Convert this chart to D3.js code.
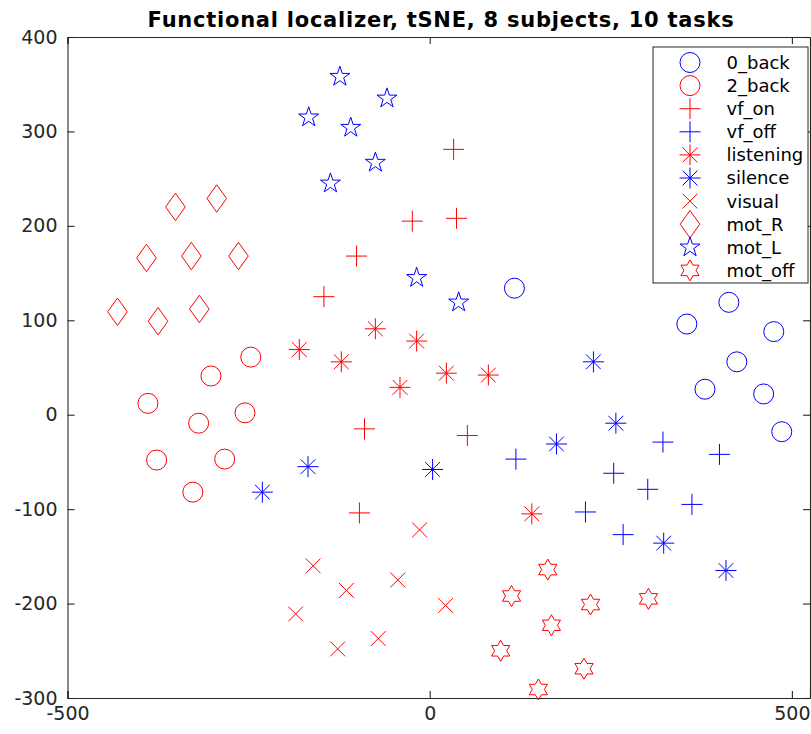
<!DOCTYPE html>
<html>
<head>
<meta charset="utf-8">
<script src="https://cdn.jsdelivr.net/npm/d3@7/dist/d3.min.js"></script>
<style>
  html, body { margin: 0; padding: 0; background: #fff; }
  svg { display: block; }
  text { font-family: "DejaVu Sans", sans-serif; }
</style>
</head>
<body>
<svg id="chart" width="811" height="734"></svg>
<script>
// ---------------- data ----------------
const categories = ["0_back", "2_back", "vf_on", "vf_off", "listening", "silence", "visual", "mot_R", "mot_L", "mot_off"];
const seriesColors = ["#0000ff", "#ff0000", "#ff0000", "#0000ff", "#ff0000", "#0000ff", "#ff0000", "#ff0000", "#0000ff", "#ff0000"];
const seriesShapes = ["circle", "circle", "plus", "plus", "asterisk", "asterisk", "cross", "diamond", "pentagram", "hexagram"];

const back0X = [117, 413, 355, 475, 424, 380, 461, 486];
const back0Y = [134, 119, 96, 88, 56, 27, 22, -18];
const back2X = [-247, -302, -389, -319, -255, -283, -377, -327];
const back2Y = [61, 41, 12, -9, 2, -47, -48, -82];
const vfOnX = [33, -24, 37, -101, -146, -90, 52, -97];
const vfOnY = [281, 205, 208, 168, 125, -15, -22, -104];
const vfOffX = [119, 322, 400, 254, 301, 362, 215, 267];
const vfOffY = [-47, -29, -42, -62, -79, -95, -103, -127];
const listeningX = [-180, -122, -75, -18, 23, 81, -41, 141];
const listeningY = [69, 56, 91, 78, 44, 42, 29, -105];
const silenceX = [-231, -168, 4, 175, 226, 257, 323, 409];
const silenceY = [-82, -55, -58, -31, 56, -9, -136, -165];
const visualX = [-14, -161, -115, -44, 22, -185, -71, -127];
const visualY = [-122, -160, -186, -175, -202, -211, -237, -248];
const motRX = [-351, -294, -391, -329, -264, -431, -375, -318];
const motRY = [220, 229, 166, 168, 168, 109, 99, 112];
const motLX = [-124, -59, -167, -109, -75, -137, -18, 40];
const motLY = [358, 335, 315, 304, 267, 245, 145, 119];
const motOffX = [163, 113, 222, 168, 98, 213, 150, 302];
const motOffY = [-164, -192, -201, -223, -250, -269, -291, -195];

const xTicks = [-500, 0, 500];
const yTicks = [-300, -200, -100, 0, 100, 200, 300, 400];
const xDomain = [-500, 525];
const yDomain = [-300, 400];
const titleText = "Functional localizer, tSNE, 8 subjects, 10 tasks";

// build table
const seriesX = [back0X, back2X, vfOnX, vfOffX, listeningX, silenceX, visualX, motRX, motLX, motOffX];
const seriesY = [back0Y, back2Y, vfOnY, vfOffY, listeningY, silenceY, visualY, motRY, motLY, motOffY];
const series = categories.map((name, i) => ({
  name, color: seriesColors[i], shape: seriesShapes[i],
  points: seriesX[i].map((x, j) => ({ x, y: seriesY[i][j] }))
}));

// ---------------- layout ----------------
const L = 67.5, R = 810, T = 37, B = 698;
const svg = d3.select("#chart");
const x = d3.scaleLinear().domain(xDomain).range([L, R]);
const y = d3.scaleLinear().domain(yDomain).range([B, T]);

function starPath(n, ro, ri) {
  const pts = [];
  for (let k = 0; k < 2 * n; k++) {
    const r = k % 2 === 0 ? ro : ri;
    const a = -Math.PI / 2 + k * Math.PI / n;
    pts.push([r * Math.cos(a), r * Math.sin(a)]);
  }
  return "M" + pts.map(p => p[0].toFixed(2) + "," + p[1].toFixed(2)).join("L") + "Z";
}
const d7 = 7.4;
const shapePaths = {
  circle: "M10,0A10,10 0 1,1 -10,0A10,10 0 1,1 10,0Z",
  plus: "M-10.5,0H10.5M0,-10.5V10.5",
  asterisk: `M-10.5,0H10.5M0,-10.5V10.5M${-d7},${-d7}L${d7},${d7}M${-d7},${d7}L${d7},${-d7}`,
  cross: `M${-d7},${-d7}L${d7},${d7}M${-d7},${d7}L${d7},${-d7}`,
  diamond: "M0,-13.7L9.8,0L0,13.7L-9.8,0Z",
  pentagram: starPath(5, 10.5, 10.5 * 0.382),
  hexagram: starPath(6, 10.5, 10.5 / Math.sqrt(3))
};

const axisColor = "#262626";

// axes
const gx = svg.append("g").attr("transform", `translate(0,${B})`)
  .call(d3.axisBottom(x).tickValues(xTicks).tickSize(-7).tickPadding(9).tickFormat(d3.format("d")));
const gxTop = svg.append("g").attr("transform", `translate(0,${T})`)
  .call(d3.axisTop(x).tickValues(xTicks).tickSize(-7).tickFormat(""));
const gy = svg.append("g").attr("transform", `translate(${L},0)`)
  .call(d3.axisLeft(y).tickValues(yTicks).tickSize(-7).tickPadding(10).tickFormat(d3.format("d")));
const gyRight = svg.append("g").attr("transform", `translate(${R},0)`)
  .call(d3.axisRight(y).tickValues(yTicks).tickSize(-7).tickFormat(""));

[gx, gxTop, gy, gyRight].forEach(g => {
  g.select(".domain").attr("stroke", axisColor).attr("stroke-width", 1.1);
  g.selectAll(".tick line").attr("stroke", axisColor).attr("stroke-width", 1.1);
  g.selectAll(".tick text").attr("fill", axisColor).attr("font-size", 19)
    .attr("font-family", "DejaVu Sans");
});
gx.selectAll(".tick text").text(d => d < 0 ? "-" + Math.abs(d) : d);
gy.selectAll(".tick text").text(d => d < 0 ? "-" + Math.abs(d) : d);

// markers
const g = svg.append("g");
series.forEach(s => {
  g.selectAll(null).data(s.points).enter().append("path")
    .attr("d", shapePaths[s.shape])
    .attr("transform", p => `translate(${x(p.x)},${y(p.y)})`)
    .attr("fill", "none")
    .attr("stroke", s.color)
    .attr("stroke-width", 1);
});

// title
svg.append("text")
  .attr("x", 441).attr("y", 26.7)
  .attr("text-anchor", "middle")
  .attr("font-weight", "bold")
  .attr("font-size", 21)
  .attr("letter-spacing", 0.75)
  .attr("fill", "#000")
  .text(titleText);

// legend
const legX = 653, legY = 47, legW = 155, legH = 236, rowH = 23.1, row0 = 62.5;
const leg = svg.append("g");
leg.append("rect").attr("x", legX).attr("y", legY).attr("width", legW).attr("height", legH)
  .attr("fill", "#fff").attr("stroke", axisColor).attr("stroke-width", 1);
series.forEach((s, i) => {
  const cy = row0 + i * rowH;
  leg.append("path").attr("d", shapePaths[s.shape])
    .attr("transform", `translate(690,${cy})`)
    .attr("fill", "none").attr("stroke", s.color).attr("stroke-width", 1);
  leg.append("text").attr("x", 726.5).attr("y", cy).attr("dy", "0.36em")
    .attr("font-size", 18).attr("fill", "#000").text(s.name);
});
</script>
</body>
</html>
